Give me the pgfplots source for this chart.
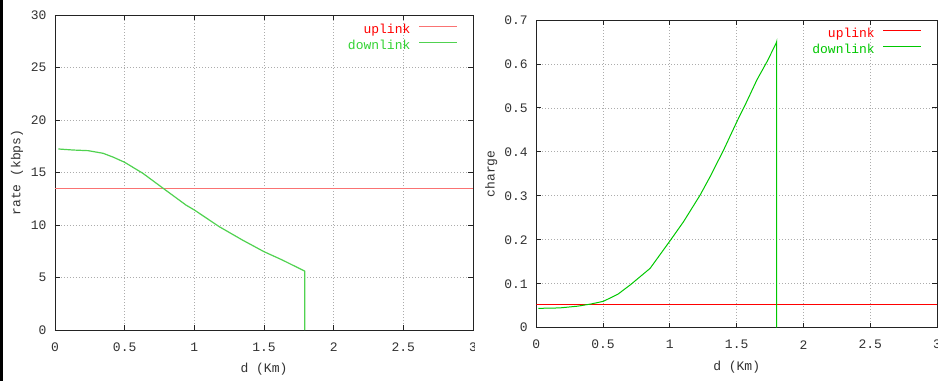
\documentclass[border=0pt]{standalone}
\usepackage{fontspec}
\setmainfont{Liberation Mono}
\usepackage{pgfplots}
\pgfplotsset{compat=1.18}
\definecolor{gpred}{RGB}{255,0,0}
\definecolor{gpgreen}{RGB}{0,200,0}
\definecolor{lred}{RGB}{250,115,115}
\definecolor{lgreen}{RGB}{80,210,80}
\definecolor{gpframe}{RGB}{35,35,35}
\definecolor{gptext}{RGB}{50,50,50}
\pgfplotsset{
  gp/.style={
    scale only axis,
    anchor=south west,
    xmin=0, xmax=3,
    xtick={0,0.5,1,1.5,2,2.5,3},
    xticklabels={0,0.5,1,1.5,2,2.5,3},
    grid=major,
    major grid style={dash pattern=on 1pt off 2pt, gray!65, line width=0.8pt},
    axis line style={gpframe, line width=0.9pt},
    tick style={gpframe, line width=0.9pt},
    major tick length=5pt,
    tick align=inside,
    xticklabel style={anchor=center, yshift=-17pt, text=gptext},
    yticklabel style={anchor=east, xshift=-4pt, text=gptext},
    label style={text=gptext},
    xlabel style={anchor=center},
    ylabel style={anchor=center},
    legend plot pos=right,
    legend cell align=right,
    legend style={draw=none, fill=none, anchor=north east, inner sep=0pt,
      nodes={inner sep=0pt, text height=9pt, text depth=3pt},
      row sep=4pt, column sep=8pt},
    legend image code/.code={\draw[##1] (0pt,3.5pt) -- (38pt,3.5pt);},
  }
}
\begin{document}
\fontsize{13pt}{15.6pt}\selectfont
\begin{tikzpicture}[x=1pt,y=1pt]
\useasboundingbox (0,0) rectangle (938,381);
\fill[white] (0,0) rectangle (938,381);
\begin{axis}[gp,
  at={(55pt,51pt)}, width=418pt, height=315pt,
  ymin=0, ymax=30,
  ytick={0,5,10,15,20,25,30},
  yticklabels={0,5,10,15,20,25,30},
  xlabel={d (Km)}, ylabel={rate (kbps)},
  xlabel style={at={(axis description cs:0.5,-0.1238)}},
  ylabel style={at={(axis description cs:-0.0909,0.5)}},
  legend style={at={(rel axis cs:1,1)}, xshift=-15pt, yshift=-9pt},
]
\addplot[lred, line width=1.4pt] coordinates {(0,13.45) (3,13.45)};
\addlegendentry{\textcolor{gpred}{uplink}}
\addplot[lgreen, line width=1.2pt] coordinates {
 (0.024,17.24) (0.131,17.14) (0.238,17.08) (0.345,16.83) (0.42,16.45) (0.5,15.97)
 (0.631,14.92) (0.786,13.40) (0.94,11.9) (1.0,11.43) (1.179,9.84) (1.345,8.57)
 (1.5,7.46) (1.631,6.67) (1.786,5.65) (1.793,5.6) (1.793,0)};
\addlegendentry{\textcolor{gpgreen!80!white}{downlink}}
\end{axis}
\fill[white] (475,0) rectangle (938,381);
\fill[black] (0,0) rectangle (3,381);
\begin{axis}[gp,
  at={(536.3pt,53.3pt)}, width=400.7pt, height=307.7pt,
  ymin=0, ymax=0.7,
  ytick={0,0.1,0.2,0.3,0.4,0.5,0.6,0.7},
  yticklabels={0,0.1,0.2,0.3,0.4,0.5,0.6,0.7},
  xlabel={d (Km)}, ylabel={charge},
  xlabel style={at={(axis description cs:0.5,-0.1267)}},
  ylabel style={at={(axis description cs:-0.1122,0.5)}},
  legend style={at={(rel axis cs:1,1)}, xshift=-15pt, yshift=-8pt},
]
\addplot[gpred, line width=1pt] coordinates {(0,0.053) (3,0.053)};
\addlegendentry{\textcolor{gpred}{uplink}}
\addplot[gpgreen, line width=1pt] coordinates {
 (0.015,0.044) (0.175,0.045) (0.31,0.049) (0.41,0.054) (0.502,0.06) (0.61,0.076)
 (0.702,0.097) (0.852,0.135) (1.002,0.198) (1.102,0.241) (1.227,0.302) (1.302,0.344)
 (1.402,0.404) (1.502,0.469) (1.564,0.507) (1.652,0.564) (1.727,0.605) (1.797,0.648)
 (1.8,0.651) (1.8,0)};
\addlegendentry{\textcolor{gpgreen}{downlink}}
\end{axis}
\end{tikzpicture}
\end{document}
